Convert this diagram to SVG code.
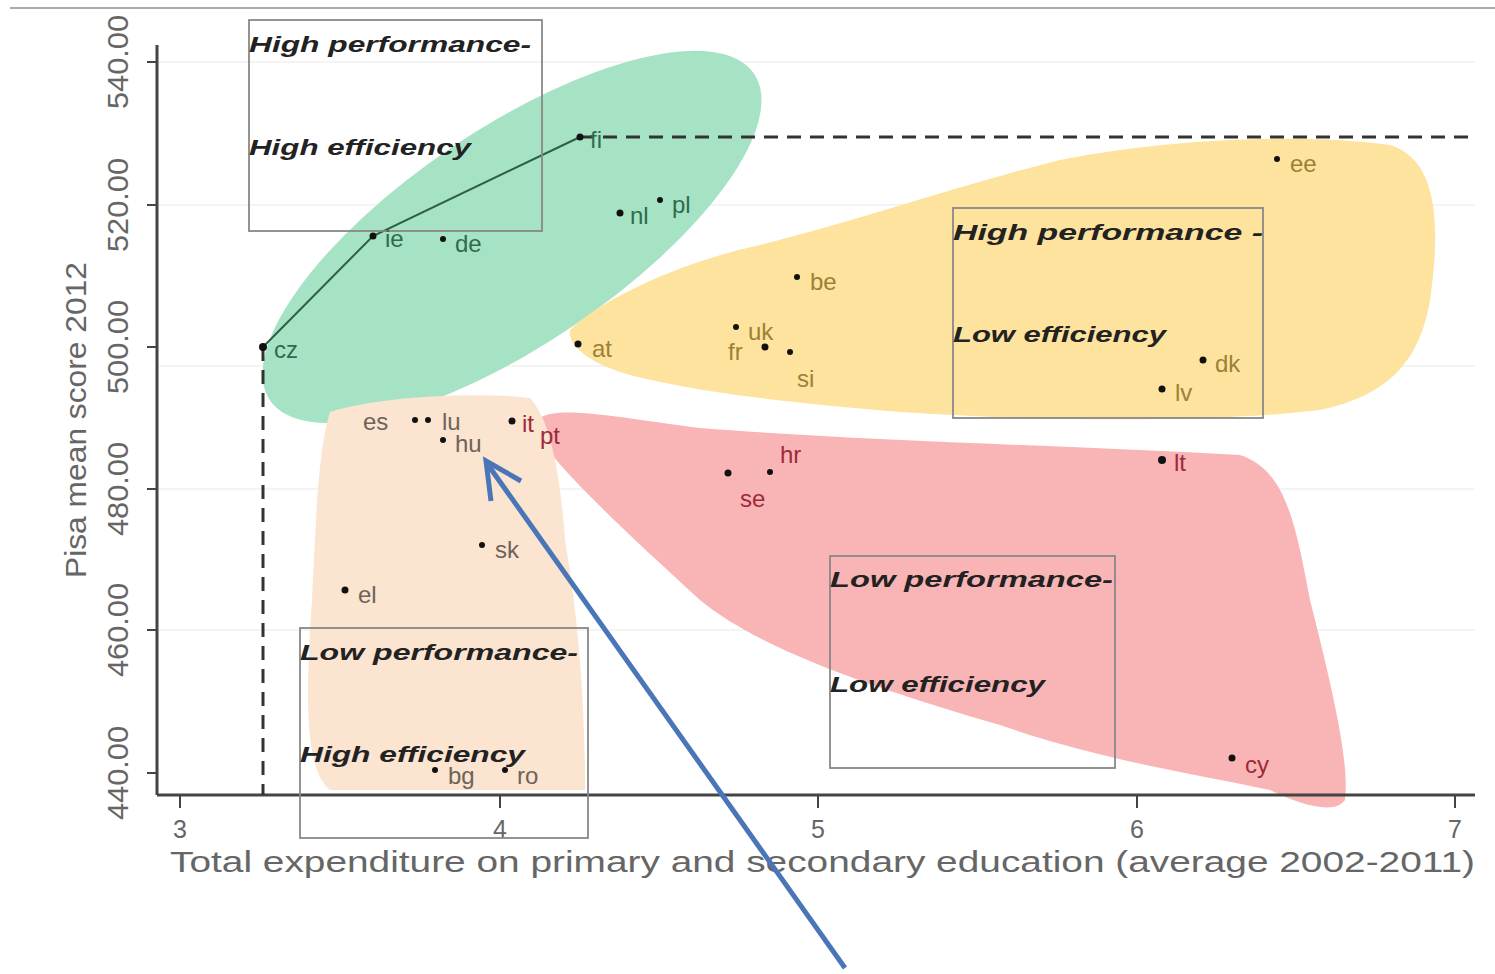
<svg xmlns="http://www.w3.org/2000/svg" width="1495" height="974" viewBox="0 0 1495 974">
<style>
.axis{stroke:#444;stroke-width:3;fill:none}
.tick{stroke:#444;stroke-width:2}
.grid{stroke:#f0f0f0;stroke-width:1.5}
.ax{font-family:"Liberation Sans",Arial,sans-serif;fill:#666;font-size:30px}
.xt{font-family:"Liberation Sans",Arial,sans-serif;fill:#666;font-size:25px}
.box{fill:none;stroke:#888;stroke-width:1.8}
.bt{font-family:"Liberation Sans",Arial,sans-serif;font-weight:bold;font-style:italic;font-size:22px;fill:#222}
.lbl{font-family:"Liberation Sans",Arial,sans-serif;font-size:24px}
.g{fill:#2f6b4c}.y{fill:#9c8036}.r{fill:#9c2b3a}.p{fill:#6e6259}
.dot{fill:#111}
.arrow{fill:none;stroke:#4a76b8;stroke-width:5}
</style>
<rect width="1495" height="974" fill="#fff"/>
<line x1="10" y1="8" x2="1495" y2="8" stroke="#aaa" stroke-width="2"/>
<g id="grid">
<line class="grid" x1="157" y1="62" x2="1475" y2="62"/>
<line class="grid" x1="157" y1="205" x2="1475" y2="205"/>
<line class="grid" x1="157" y1="366" x2="1475" y2="366"/>
<line class="grid" x1="157" y1="489" x2="1475" y2="489"/>
<line class="grid" x1="157" y1="630" x2="1475" y2="630"/>
</g>
<g id="regions">
<ellipse id="green" cx="512" cy="237" rx="292" ry="108" transform="rotate(-34 512 237)" fill="#a6e3c4"/>
<path id="yellow" d="M570,330 C600,300 680,262 760,245 C860,220 960,185 1060,160 C1160,140 1300,132 1390,145 C1440,160 1440,230 1430,300 C1420,360 1390,395 1320,410 C1220,422 1050,422 900,412 C780,402 680,390 620,372 C585,360 568,345 570,330 Z" fill="#fde39d"/>
<path id="red" d="M540,418 C560,405 620,418 700,428 C850,440 1050,445 1240,455 C1285,470 1295,520 1310,600 C1330,680 1350,760 1345,800 C1335,815 1300,805 1270,790 C1200,775 1100,760 1000,725 C880,690 760,650 700,600 C640,545 580,490 548,450 Z" fill="#f9b4b5"/>
<path id="peach" d="M330,412 C380,396 480,392 530,398 C550,420 560,470 565,540 C575,600 585,680 585,790 L330,790 C305,770 305,700 312,600 C316,520 318,450 330,412 Z" fill="#fbe4d0"/>
</g>
<g id="axes">
<line class="axis" x1="157" y1="45" x2="157" y2="795"/>
<line class="axis" x1="157" y1="795" x2="1475" y2="795"/>
<line class="tick" x1="147" y1="62" x2="157" y2="62"/>
<line class="tick" x1="147" y1="205" x2="157" y2="205"/>
<line class="tick" x1="147" y1="347" x2="157" y2="347"/>
<line class="tick" x1="147" y1="489" x2="157" y2="489"/>
<line class="tick" x1="147" y1="630" x2="157" y2="630"/>
<line class="tick" x1="147" y1="773" x2="157" y2="773"/>
<line class="tick" x1="180" y1="795" x2="180" y2="808"/>
<line class="tick" x1="500" y1="795" x2="500" y2="808"/>
<line class="tick" x1="818" y1="795" x2="818" y2="808"/>
<line class="tick" x1="1137" y1="795" x2="1137" y2="808"/>
<line class="tick" x1="1455" y1="795" x2="1455" y2="808"/>
<text class="ax" x="128" y="62" text-anchor="middle" transform="rotate(-90 128 62)" textLength="94" lengthAdjust="spacingAndGlyphs">540.00</text>
<text class="ax" x="128" y="205" text-anchor="middle" transform="rotate(-90 128 205)" textLength="94" lengthAdjust="spacingAndGlyphs">520.00</text>
<text class="ax" x="128" y="347" text-anchor="middle" transform="rotate(-90 128 347)" textLength="94" lengthAdjust="spacingAndGlyphs">500.00</text>
<text class="ax" x="128" y="489" text-anchor="middle" transform="rotate(-90 128 489)" textLength="94" lengthAdjust="spacingAndGlyphs">480.00</text>
<text class="ax" x="128" y="630" text-anchor="middle" transform="rotate(-90 128 630)" textLength="94" lengthAdjust="spacingAndGlyphs">460.00</text>
<text class="ax" x="128" y="773" text-anchor="middle" transform="rotate(-90 128 773)" textLength="94" lengthAdjust="spacingAndGlyphs">440.00</text>
<text class="ax" x="86" y="420" text-anchor="middle" transform="rotate(-90 86 420)" textLength="316" lengthAdjust="spacingAndGlyphs">Pisa mean score 2012</text>
<text class="xt" x="180" y="838" text-anchor="middle">3</text>
<text class="xt" x="500" y="838" text-anchor="middle">4</text>
<text class="xt" x="818" y="838" text-anchor="middle">5</text>
<text class="xt" x="1137" y="838" text-anchor="middle">6</text>
<text class="xt" x="1455" y="838" text-anchor="middle">7</text>
<text class="ax" x="170" y="872" font-size="28" textLength="1305" lengthAdjust="spacingAndGlyphs">Total expenditure on primary and secondary education (average 2002-2011)</text>
</g>
<g id="connectors">
<line x1="580" y1="137" x2="1470" y2="137" stroke="#333" stroke-width="3" stroke-dasharray="14,9"/>
<line x1="263" y1="347" x2="263" y2="795" stroke="#333" stroke-width="3" stroke-dasharray="14,9"/>
<polyline points="263,347 373,236 580,137" fill="none" stroke="#2f5e44" stroke-width="2"/>
<line class="arrow" x1="845" y1="968" x2="486" y2="462"/>
<polyline class="arrow" points="521,481 486,461 491,501" stroke-width="6"/>
</g>
<g id="box-hh">
<rect class="box" x="249" y="20" width="293" height="211"/>
<text class="bt" x="249" y="52" textLength="282" lengthAdjust="spacingAndGlyphs">High performance-</text>
<text class="bt" x="249" y="155" textLength="222" lengthAdjust="spacingAndGlyphs">High efficiency</text>
</g>
<g id="box-hl">
<rect class="box" x="953" y="208" width="310" height="210"/>
<text class="bt" x="953" y="240" textLength="310" lengthAdjust="spacingAndGlyphs">High performance -</text>
<text class="bt" x="953" y="342" textLength="213" lengthAdjust="spacingAndGlyphs">Low efficiency</text>
</g>
<g id="box-ll">
<rect class="box" x="830" y="556" width="285" height="212"/>
<text class="bt" x="830" y="587" textLength="283" lengthAdjust="spacingAndGlyphs">Low performance-</text>
<text class="bt" x="830" y="692" textLength="215" lengthAdjust="spacingAndGlyphs">Low efficiency</text>
</g>
<g id="box-lh">
<rect class="box" x="300" y="628" width="288" height="210"/>
<text class="bt" x="300" y="660" textLength="278" lengthAdjust="spacingAndGlyphs">Low performance-</text>
<text class="bt" x="300" y="762" textLength="225" lengthAdjust="spacingAndGlyphs">High efficiency</text>
</g>
<g id="points">
<circle class="dot" cx="263" cy="347" r="4"/><text class="lbl g" x="274" y="358">cz</text>
<circle class="dot" cx="373" cy="236" r="3.5"/><text class="lbl g" x="385" y="247">ie</text>
<circle class="dot" cx="443" cy="239" r="3"/><text class="lbl g" x="455" y="252">de</text>
<circle class="dot" cx="580" cy="137" r="3.5"/><text class="lbl g" x="590" y="148">fi</text>
<circle class="dot" cx="620" cy="213" r="3.5"/><text class="lbl g" x="630" y="224">nl</text>
<circle class="dot" cx="660" cy="200" r="3"/><text class="lbl g" x="672" y="213">pl</text>
<circle class="dot" cx="1277" cy="159" r="3"/><text class="lbl y" x="1290" y="172">ee</text>
<circle class="dot" cx="797" cy="277" r="3"/><text class="lbl y" x="810" y="290">be</text>
<circle class="dot" cx="578" cy="344" r="3.5"/><text class="lbl y" x="592" y="357">at</text>
<circle class="dot" cx="736" cy="327" r="3"/><text class="lbl y" x="748" y="340">uk</text>
<circle class="dot" cx="765" cy="347" r="3.5"/><text class="lbl y" x="728" y="360">fr</text>
<circle class="dot" cx="790" cy="352" r="3"/><text class="lbl y" x="797" y="387">si</text>
<circle class="dot" cx="1203" cy="360" r="3.5"/><text class="lbl y" x="1215" y="372">dk</text>
<circle class="dot" cx="1162" cy="389" r="3.5"/><text class="lbl y" x="1175" y="401">lv</text>
<text class="lbl p" x="363" y="430">es</text>
<circle class="dot" cx="415" cy="420" r="3"/><circle class="dot" cx="428" cy="420" r="3"/><text class="lbl p" x="442" y="430">lu</text>
<circle class="dot" cx="443" cy="440" r="3"/><text class="lbl p" x="455" y="452">hu</text>
<circle class="dot" cx="512" cy="421" r="3.5"/><text class="lbl r" x="522" y="432">it</text>
<text class="lbl r" x="540" y="444">pt</text>
<circle class="dot" cx="728" cy="473" r="3.5"/><circle class="dot" cx="770" cy="472" r="3"/><text class="lbl r" x="780" y="463">hr</text>
<text class="lbl r" x="740" y="507">se</text>
<circle class="dot" cx="1162" cy="460" r="4"/><text class="lbl r" x="1174" y="471">lt</text>
<circle class="dot" cx="1232" cy="758" r="3.5"/><text class="lbl r" x="1245" y="773">cy</text>
<circle class="dot" cx="482" cy="545" r="3"/><text class="lbl p" x="495" y="558">sk</text>
<circle class="dot" cx="345" cy="590" r="3.5"/><text class="lbl p" x="358" y="603">el</text>
<circle class="dot" cx="435" cy="770" r="3"/><text class="lbl p" x="448" y="784">bg</text>
<circle class="dot" cx="505" cy="770" r="3"/><text class="lbl p" x="517" y="784">ro</text>
</g>
</svg>
